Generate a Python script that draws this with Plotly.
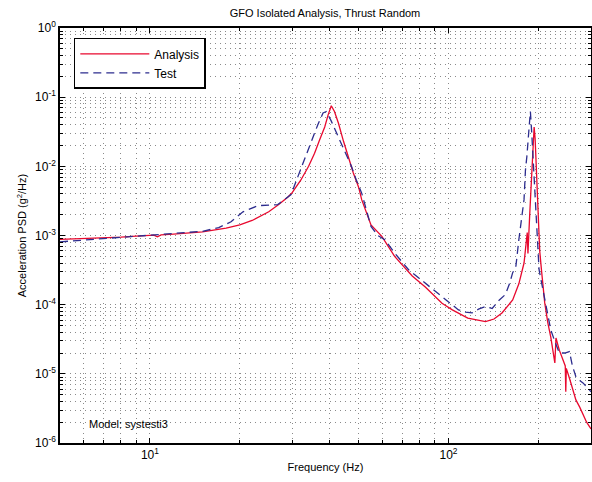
import plotly.graph_objects as go

# ---- data ----
analysis_freq = [5, 6, 7, 8, 9, 10, 10.3, 10.6, 10.9, 12, 15, 18, 20, 22, 25, 27, 29, 30, 32, 34,
                 35.6, 37, 38.5, 39.5, 40.5, 41.5, 42.8, 44.5, 46.2, 48, 50, 51.2, 55, 59.8, 66,
                 70, 75.6, 83.6, 95.1, 103, 116, 133, 142, 151, 164, 172, 179, 183.5, 184.5, 187,
                 190, 192, 193.5, 195, 197, 200, 202, 205, 210, 215, 220, 227, 229, 235, 241, 246,
                 247, 248, 255, 262, 267, 275, 282, 290, 300]
analysis_psd = [8.8e-4, 9.0e-4, 9.3e-4, 9.5e-4, 9.8e-4, 1.0e-3, 1.01e-3, 9.6e-4, 1.02e-3, 1.05e-3,
                1.13e-3, 1.28e-3, 1.42e-3, 1.65e-3, 2.2e-3, 2.8e-3, 3.6e-3, 4.2e-3, 6.3e-3, 1.0e-2,
                1.55e-2, 2.4e-2, 3.7e-2, 5.5e-2, 7.5e-2, 6.2e-2, 4.2e-2, 2.3e-2, 1.38e-2, 8.0e-3,
                5.0e-3, 3.3e-3, 1.42e-3, 9.7e-4, 5.0e-4, 3.8e-4, 2.6e-4, 1.8e-4, 1.05e-4, 8.4e-5,
                6.4e-5, 5.7e-5, 6.2e-5, 7.6e-5, 1.17e-4, 2.0e-4, 4.0e-4, 1.1e-3, 5.5e-4, 2.0e-3,
                8.0e-3, 2.2e-2, 3.7e-2, 2.5e-2, 8.9e-3, 1.8e-3, 6.0e-4, 3.0e-4, 1.06e-4, 5.5e-5,
                3.4e-5, 1.44e-5, 3.3e-5, 2.2e-5, 1.6e-5, 1.3e-5, 5.5e-6, 1.2e-5, 8.2e-6, 5.5e-6,
                4.2e-6, 3.3e-6, 2.6e-6, 2.0e-6, 1.6e-6]

test_freq = [5, 6, 7, 8, 9, 10, 11, 12, 13.7, 15, 17, 18.7, 20.5, 23, 26.8, 28.2, 29.7, 31.3, 33,
             34.7, 36.5, 38, 39, 40.5, 42.7, 45, 47.3, 49, 51.2, 55, 58, 61.2, 66.2, 73.5, 78,
             83.6, 89, 95.1, 101, 108, 114, 120, 126, 133, 140, 148, 155, 160, 164, 168, 172,
             176, 179, 181, 183, 186, 188, 190, 192, 195, 199, 201, 204, 208, 212, 220, 228,
             235, 245, 254, 260, 267, 275, 282, 290, 300]
test_psd = [8.1e-4, 8.6e-4, 9.1e-4, 9.5e-4, 9.8e-4, 1.0e-3, 1.05e-3, 1.08e-3, 1.12e-3, 1.15e-3,
            1.3e-3, 1.58e-3, 2.2e-3, 2.7e-3, 2.8e-3, 3.3e-3, 3.9e-3, 7.1e-3, 1.3e-2, 2.4e-2,
            4.0e-2, 5.9e-2, 6.2e-2, 4.5e-2, 2.7e-2, 1.6e-2, 1.0e-2, 6.5e-3, 4.1e-3, 1.35e-3,
            1.0e-3, 8.7e-4, 5.5e-4, 3.2e-4, 2.6e-4, 2.0e-4, 1.6e-4, 1.3e-4, 1.05e-4, 8.4e-5,
            7.8e-5, 7.6e-5, 8.6e-5, 9.4e-5, 8.8e-5, 1.17e-4, 1.4e-4, 2.0e-4, 2.9e-4, 3.5e-4,
            8.7e-4, 1.9e-3, 3.3e-3, 8.9e-3, 1.4e-2, 3.5e-2, 6.2e-2, 3.0e-2, 1.2e-2, 3.0e-3,
            5.6e-4, 3.2e-4, 2.3e-4, 1.5e-4, 9.4e-5, 4.3e-5, 2.8e-5, 2.0e-5, 2.0e-5, 2.1e-5,
            1.3e-5, 9.1e-6, 8.0e-6, 7.4e-6, 6.5e-6, 5.5e-6]

x_major = [10, 100]
x_major_text = ["10<sup>1</sup>", "10<sup>2</sup>"]
x_minor = [5, 6, 7, 8, 9, 20, 30, 40, 50, 60, 70, 80, 90, 200, 300]
y_exps = [-6, -5, -4, -3, -2, -1, 0]
y_major = [10.0 ** e for e in y_exps]
y_major_text = ["10<sup>%d</sup>" % e for e in y_exps]
y_minor = [m * 10.0 ** e for e in y_exps[:-1] for m in range(2, 10)]

FONT = "Helvetica, Liberation Sans, Arial, sans-serif"
GRID = "#8a8a8a"
DOTS = "1px,4px"

fig = go.Figure()
fig.add_trace(go.Scatter(x=analysis_freq, y=analysis_psd, mode="lines", name="Analysis",
                         line=dict(color="#e8082e", width=1.3)))
fig.add_trace(go.Scatter(x=test_freq, y=test_psd, mode="lines", name="Test",
                         line=dict(color="#2c2c8e", width=1.3, dash="8px,5px")))

axis_common = dict(
    showline=True, linecolor="black", linewidth=1.5, mirror="allticks",
    ticks="inside", ticklen=5, tickcolor="black", tickwidth=1,
    showgrid=True, gridcolor=GRID, griddash=DOTS, gridwidth=1,
    tickfont=dict(family=FONT, size=12, color="black"),
    zeroline=False, automargin=False,
)

fig.update_xaxes(type="log", range=[0.69897, 2.47712], tickmode="array",
                 tickvals=x_major, ticktext=x_major_text,
                 minor=dict(tickmode="array", tickvals=x_minor, ticks="inside", ticklen=3,
                            tickcolor="black", showgrid=True, gridcolor=GRID,
                            griddash=DOTS, gridwidth=1),
                 title=dict(text="Frequency (Hz)", font=dict(family=FONT, size=11, color="black"),
                            standoff=2),
                 **axis_common)
fig.update_yaxes(type="log", range=[-6, 0], tickmode="array",
                 tickvals=y_major, ticktext=y_major_text,
                 minor=dict(tickmode="array", tickvals=y_minor, ticks="inside", ticklen=3,
                            tickcolor="black", showgrid=True, gridcolor=GRID,
                            griddash=DOTS, gridwidth=1),
                 title=dict(text="Acceleration PSD (g<sup>2</sup>/Hz)",
                            font=dict(family=FONT, size=11, color="black"), standoff=6),
                 **axis_common)

fig.update_layout(
    width=592, height=482,
    margin=dict(l=60, r=1, t=28, b=39, autoexpand=False),
    paper_bgcolor="white", plot_bgcolor="white",
    title=dict(text="GFO Isolated Analysis, Thrust Random", x=0.549, xanchor="center",
               y=0.973, yanchor="middle", yref="container",
               font=dict(family=FONT, size=11, color="black")),
    legend=dict(x=0.026, y=0.976, xanchor="left", yanchor="top",
                bgcolor="white", bordercolor="black", borderwidth=1.5,
                font=dict(family=FONT, size=12, color="black"),
                itemwidth=69, tracegroupgap=0),
    annotations=[dict(text="Model: systesti3", xref="paper", yref="paper",
                      x=0.05, y=0.046, xanchor="left", yanchor="middle", showarrow=False,
                      font=dict(family=FONT, size=11, color="black"))],
    showlegend=True,
)

fig.write_html("out.html", config={"displayModeBar": False},
               post_script="document.body.style.margin='0';document.body.style.overflow='hidden';")
